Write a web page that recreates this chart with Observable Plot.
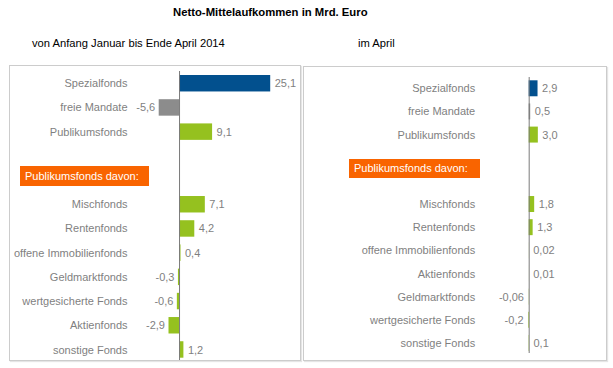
<!DOCTYPE html>
<html><head><meta charset="utf-8">
<script src="https://cdn.jsdelivr.net/npm/d3@7"></script>
<script src="https://cdn.jsdelivr.net/npm/@observablehq/plot@0.6"></script>
<style>
body{margin:0;background:#fff;font-family:"Liberation Sans",Arial,sans-serif;}
#wrap{position:relative;width:613px;height:368px;overflow:hidden;background:#fff}
.abs{position:absolute;white-space:nowrap;line-height:14px;color:#000}
.box{position:absolute;border:1px solid #cccccc;box-shadow:1px 1px 1px rgba(0,0,0,0.10);box-sizing:border-box;background:#fff}
.hdr{position:absolute;background:#f96400;color:#fff;font-size:11px;box-sizing:border-box;padding-left:5px;white-space:nowrap}
.plot{position:absolute}
</style></head>
<body>
<div id="wrap">
  <div class="abs" style="left:173px;top:5px;font-weight:bold;font-size:11.3px;">Netto-Mittelaufkommen in Mrd. Euro</div>
  <div class="abs" style="left:32px;top:36px;font-size:11.2px;">von Anfang Januar bis Ende April 2014</div>
  <div class="abs" style="left:358px;top:36px;font-size:11.2px;">im April</div>
  <div class="box" style="left:9px;top:65px;width:292px;height:296px;"></div>
  <div class="box" style="left:303px;top:66px;width:304px;height:295px;"></div>
  <div id="left" class="plot" style="left:9px;top:65px;"></div>
  <div id="right" class="plot" style="left:304px;top:66px;"></div>
  <div class="hdr" style="left:20px;top:166px;width:129px;height:20px;line-height:20px;">Publikumsfonds davon:</div>
  <div class="hdr" style="left:349px;top:159px;width:131px;height:19px;line-height:19px;">Publikumsfonds davon:</div>
</div>
<script>
// ---- data ----
const categoriesLeft = ["Spezialfonds","freie Mandate","Publikumsfonds","Mischfonds","Rentenfonds","offene Immobilienfonds","Geldmarktfonds","wertgesicherte Fonds","Aktienfonds","sonstige Fonds"];
const valuesLeft = [25.1,-5.6,9.1,7.1,4.2,0.4,-0.3,-0.6,-2.9,1.2];
const labelsLeft = ["25,1","-5,6","9,1","7,1","4,2","0,4","-0,3","-0,6","-2,9","1,2"];

const categoriesRight = ["Spezialfonds","freie Mandate","Publikumsfonds","Mischfonds","Rentenfonds","offene Immobilienfonds","Aktienfonds","Geldmarktfonds","wertgesicherte Fonds","sonstige Fonds"];
const valuesRight = [2.9,0.5,3.0,1.8,1.3,0.02,0.01,-0.06,-0.2,0.1];
const labelsRight = ["2,9","0,5","3,0","1,8","1,3","0,02","0,01","-0,06","-0,2","0,1"];

const groupNames = ["Spezialfonds","freie Mandate","Publikumsfonds"];
const groupColors = ["#02508e","#8c8c8c","#95c11f"];

function groupOf(name){ return name === "Spezialfonds" ? "Spezialfonds" : name === "freie Mandate" ? "freie Mandate" : "Publikumsfonds"; }

function panel(o){
  const data = o.cats.map((c,i)=>({name:c, value:o.vals[i], label:o.labs[i]}));
  const domain = [...o.cats.slice(0,3), "_gap1", "_gap2", ...o.cats.slice(3)];
  return Plot.plot({
    width:o.width, height:o.height,
    marginLeft:o.marginLeft, marginRight:o.marginRight, marginTop:o.marginTop, marginBottom:o.marginBottom,
    style:{fontFamily:'"Liberation Sans", Arial, sans-serif', fontSize:"11px", color:"#7f7f7f", background:"transparent", overflow:"visible"},
    x:{domain:o.xDomain, axis:null},
    y:{domain, paddingInner:o.padding, paddingOuter:0, round:false, axis:null},
    color:{domain:groupNames, range:groupColors},
    marks:[
      Plot.axisY({tickSize:0, tickPadding:3, label:null, tickFormat:d => d.startsWith("_") ? "" : d, fill:"#7f7f7f"}),
      Plot.barX(data, {x:"value", y:"name", fill:d => groupOf(d.name)}),
      Plot.ruleX([0], {stroke:"#7a7a7a", strokeWidth:1, insetTop:o.insetTop, insetBottom:o.insetBottom}),
      Plot.text(data.filter(d => d.value >= 0), {x:"value", y:"name", text:"label", textAnchor:"start", dx:4, fill:"#7f7f7f"}),
      Plot.text(data.filter(d => d.value < 0), {x:"value", y:"name", text:"label", textAnchor:"end", dx:o.negDx, fill:"#7f7f7f"})
    ]
  });
}

document.getElementById("left").append(panel({
  cats:categoriesLeft, vals:valuesLeft, labs:labelsLeft,
  width:291, height:295, marginLeft:121, marginRight:12, marginTop:10, marginBottom:2.3,
  xDomain:[-13.5,30], padding:0.32, negDx:-4, insetTop:-4, insetBottom:-2.3
}));
document.getElementById("right").append(panel({
  cats:categoriesRight, vals:valuesRight, labs:labelsRight,
  width:302, height:294, marginLeft:173.7, marginRight:12, marginTop:14.3, marginBottom:9.1,
  xDomain:[-16.7,21.4], padding:0.31, negDx:-5, insetTop:-3.3, insetBottom:-2.1
}));
</script>
</body></html>
